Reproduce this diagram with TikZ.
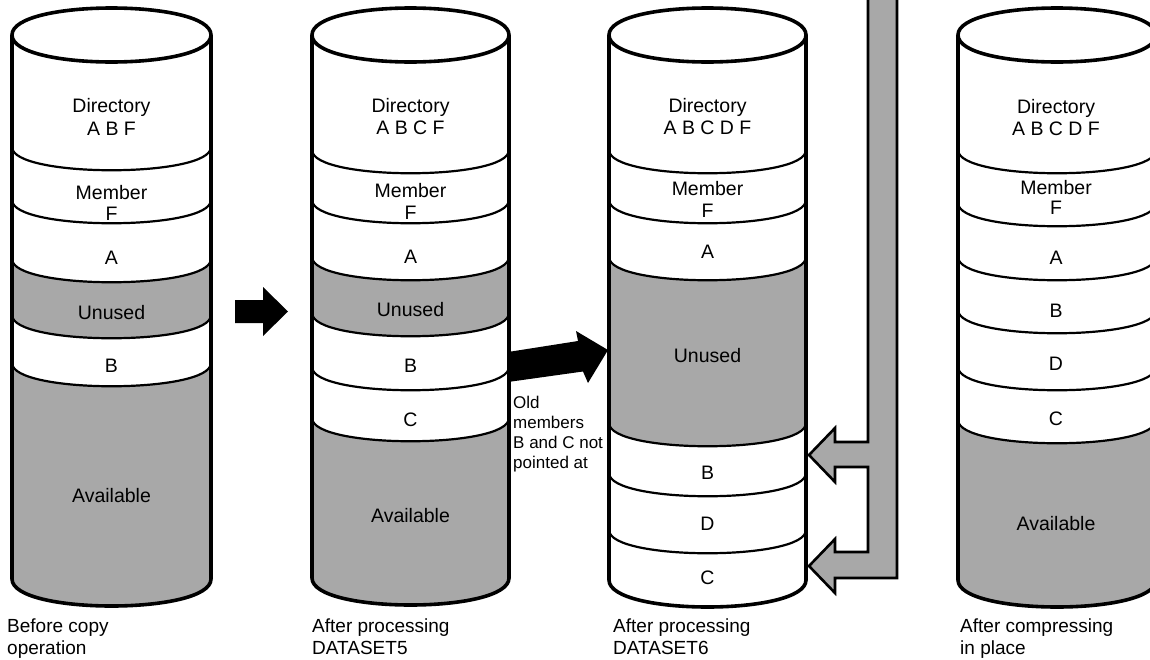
\documentclass[tikz,border=0pt]{standalone}
\usepackage{fontspec}
\setmainfont{Liberation Sans}
\tikzset{
  grayfill/.style={fill=black!34},
  outline/.style={line width=3.6pt, line join=round},
  sepstyle/.style={line width=2.2pt},
  lbl/.style={anchor=base, inner sep=0pt, font=\fontsize{19.5}{22}\selectfont},
  capt/.style={anchor=base west, inner sep=0pt, font=\fontsize{19}{22}\selectfont},
  note/.style={anchor=base west, inner sep=0pt, font=\fontsize{17}{20}\selectfont},
  blockarrow/.style={fill=black},
  hollowarrow/.style={fill=black!34, draw=black, line width=2.6pt, line join=miter},
}
\newcommand\cylwhite[3]{\fill[white] (#1,35) -- (#1,#3) .. controls (#1,#3+36) and (#2,#3+36) .. (#2,#3) -- (#2,35) .. controls (#2,-1) and (#1,-1) .. (#1,35) -- cycle;}
\newcommand\grayband[4]{\fill[grayfill] (#1,#3) .. controls (#1,#3+31) and (#2,#3+31) .. (#2,#3) -- (#2,#4) .. controls (#2,#4+31) and (#1,#4+31) .. (#1,#4) -- cycle;}
\newcommand\grayfoot[4]{\fill[grayfill] (#1,#3) .. controls (#1,#3+31) and (#2,#3+31) .. (#2,#3) -- (#2,#4) .. controls (#2,#4+36) and (#1,#4+36) .. (#1,#4) -- cycle;}
\newcommand\sepline[3]{\draw[sepstyle] (#1,#3) .. controls (#1,#3+31) and (#2,#3+31) .. (#2,#3);}
\newcommand\cyloutline[3]{\draw[outline] (#1,35) .. controls (#1,-1) and (#2,-1) .. (#2,35) .. controls (#2,71) and (#1,71) .. (#1,35) -- (#1,#3) .. controls (#1,#3+36) and (#2,#3+36) .. (#2,#3) -- (#2,35);}
\begin{document}
\begin{tikzpicture}[x=1pt,y=-1pt]
\useasboundingbox (0,0) rectangle (1150,659);
\fill[white] (0,0) rectangle (1150,659);

% ---------- cylinder 1 ----------
\cylwhite{12}{211}{579}
\grayband{12}{211}{259}{315}
\grayfoot{12}{211}{363}{579}
\sepline{12}{211}{147}
\sepline{12}{211}{200}
\sepline{12}{211}{259}
\sepline{12}{211}{315}
\sepline{12}{211}{363}
\cyloutline{12}{211}{579}
\node[lbl] (c1dir) at (111.5,112) {Directory};
\node[lbl] (c1dirl) at (111.5,135) {A B F};
\node[lbl] (c1mem) at (111.5,199) {Member};
\node[lbl] (c1memf) at (111.5,220) {F};
\node[lbl] (c1a) at (111.5,264) {A};
\node[lbl] (c1un) at (111.5,319) {Unused};
\node[lbl] (c1b) at (111.5,372) {B};
\node[lbl] (c1av) at (111.5,502) {Available};
\node[capt] (c1cap1) at (7,632) {Before copy};
\node[capt] (c1cap2) at (7,654) {operation};

% ---------- cylinder 2 ----------
\cylwhite{312}{509}{578}
\grayband{312}{509}{257}{313}
\grayfoot{312}{509}{418}{578}
\sepline{312}{509}{150}
\sepline{312}{509}{200}
\sepline{312}{509}{257}
\sepline{312}{509}{313}
\sepline{312}{509}{367}
\sepline{312}{509}{418}
\cyloutline{312}{509}{578}
\node[lbl] (c2dir) at (410.5,112) {Directory};
\node[lbl] (c2dirl) at (410.5,134) {A B C F};
\node[lbl] (c2mem) at (410.5,197) {Member};
\node[lbl] (c2memf) at (410.5,219) {F};
\node[lbl] (c2a) at (410.5,263) {A};
\node[lbl] (c2un) at (410.5,316) {Unused};
\node[lbl] (c2b) at (410.5,372) {B};
\node[lbl] (c2c) at (410.5,426) {C};
\node[lbl] (c2av) at (410.5,522) {Available};
\node[capt] (c2cap1) at (312,632) {After processing};
\node[capt] (c2cap2) at (312,654) {DATASET5};

% ---------- cylinder 3 ----------
\cylwhite{609}{806}{580}
\grayband{609}{806}{257}{423}
\sepline{609}{806}{150}
\sepline{609}{806}{200}
\sepline{609}{806}{257}
\sepline{609}{806}{423}
\sepline{609}{806}{473}
\sepline{609}{806}{530}
\cyloutline{609}{806}{580}
\node[lbl] (c3dir) at (707.5,112) {Directory};
\node[lbl] (c3dirl) at (707.5,134) {A B C D F};
\node[lbl] (c3mem) at (707.5,195) {Member};
\node[lbl] (c3memf) at (707.5,217) {F};
\node[lbl] (c3a) at (707.5,258) {A};
\node[lbl] (c3un) at (707.5,362) {Unused};
\node[lbl] (c3b) at (707.5,479) {B};
\node[lbl] (c3d) at (707.5,530) {D};
\node[lbl] (c3c) at (707.5,584) {C};
\node[capt] (c3cap1) at (613,632) {After processing};
\node[capt] (c3cap2) at (613,654) {DATASET6};

% ---------- cylinder 4 ----------
\cylwhite{958}{1156}{580}
\grayfoot{958}{1156}{420}{580}
\sepline{958}{1156}{150}
\sepline{958}{1156}{203}
\sepline{958}{1156}{257}
\sepline{958}{1156}{310}
\sepline{958}{1156}{367}
\sepline{958}{1156}{420}
\cyloutline{958}{1156}{580}
\node[lbl] (c4dir) at (1056,113) {Directory};
\node[lbl] (c4dirl) at (1056,135) {A B C D F};
\node[lbl] (c4mem) at (1056,194) {Member};
\node[lbl] (c4memf) at (1056,214) {F};
\node[lbl] (c4a) at (1056,264) {A};
\node[lbl] (c4b) at (1056,317) {B};
\node[lbl] (c4d) at (1056,370) {D};
\node[lbl] (c4c) at (1056,425) {C};
\node[lbl] (c4av) at (1056,530) {Available};
\node[capt] (c4cap1) at (960,632) {After compressing};
\node[capt] (c4cap2) at (960,654) {in place};

% ---------- arrows ----------
\fill[blockarrow] (235,300) -- (263,300) -- (263,287) -- (288,311.5) -- (263,336) -- (263,323) -- (235,323) -- cycle;
\fill[blockarrow] (508,352) -- (578,341) -- (576,331) -- (608,350) -- (588,383) -- (583,371.5) -- (508,382) -- cycle;

\node[note] (old1) at (513,408) {Old};
\node[note] (old2) at (513,428) {members};
\node[note] (old3) at (513,448) {B and C not};
\node[note] (old4) at (513,468) {pointed at};

% ---------- hollow return arrow ----------
\filldraw[hollowarrow] (868,-5) -- (897,-5) -- (897,578) -- (835,578) -- (835,593) -- (809,566) -- (835,539) -- (835,552) -- (868,552) -- (868,467) -- (835,467) -- (835,482) -- (809,455) -- (835,428) -- (835,442) -- (868,442) -- cycle;
\end{tikzpicture}
\end{document}
